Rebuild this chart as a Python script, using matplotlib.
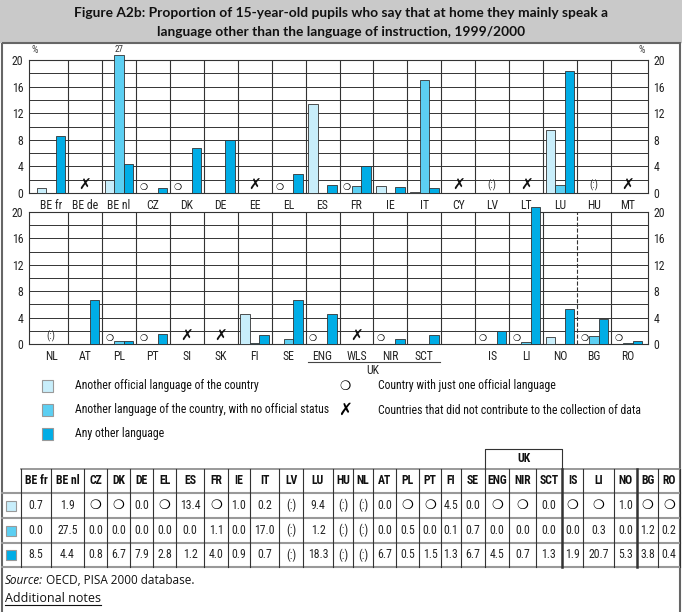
import matplotlib
matplotlib.use('Agg')
import matplotlib.pyplot as plt
from matplotlib import font_manager as fm
import numpy as np

W, H = 682, 612

# chart data ('o' = only one official language, 'x' = no data contributed, ':' = not available)
top_labels = ['BE fr', 'BE de', 'BE nl', 'CZ', 'DK', 'DE', 'EE', 'EL', 'ES',
              'FR', 'IE', 'IT', 'CY', 'LV', 'LT', 'LU', 'HU', 'MT']
top_official = [0.7, 'x', 1.9, 'o', 'o', 0.0, 'x', 'o', 13.4,
                'o', 1.0, 0.2, 'x', ':', 'x', 9.4, ':', 'x']
top_unofficial = [0.0, 'x', 27.5, 0.0, 0.0, 0.0, 'x', 0.0, 0.0,
                  1.1, 0.0, 17.0, 'x', ':', 'x', 1.2, ':', 'x']
top_other = [8.5, 'x', 4.4, 0.8, 6.7, 7.9, 'x', 2.8, 1.2,
             4.0, 0.9, 0.7, 'x', ':', 'x', 18.3, ':', 'x']

bot_labels = ['NL', 'AT', 'PL', 'PT', 'SI', 'SK', 'FI', 'SE', 'ENG',
              'WLS', 'NIR', 'SCT', '', 'IS', 'LI', 'NO', 'BG', 'RO']
bot_official = [':', 0.0, 'o', 'o', 'x', 'x', 4.5, 0.0, 'o',
                'x', 'o', 0.0, None, 'o', 'o', 1.0, 'o', 'o']
bot_unofficial = [':', 0.0, 0.5, 0.0, 'x', 'x', 0.1, 0.7, 0.0,
                  'x', 0.0, 0.0, None, 0.0, 0.3, 0.0, 1.2, 0.2]
bot_other = [':', 6.7, 0.5, 1.5, 'x', 'x', 1.3, 6.7, 4.5,
             'x', 0.7, 1.3, None, 1.9, 20.7, 5.3, 3.8, 0.4]

uk_parts = ['ENG', 'WLS', 'NIR', 'SCT']

legend_items = ['Another official language of the country',
                'Another language of the country, with no official status',
                'Any other language']
symbol_items = ['Country with just one official language',
                'Countries that did not contribute to the collection of data']

colours = ['#c8eefb', '#5ccff2', '#00ade6']
edge = '#333333'
cap = 20.7

# look for a condensed face, the reference uses a narrow type
names = sorted({f.name for f in fm.fontManager.ttflist})
narrow_name = None
for pref in ['Liberation Sans Narrow', 'Roboto Condensed', 'Open Sans Condensed', 'Noto Sans Condensed']:
    if pref in names:
        narrow_name = pref
        break
if narrow_name is None:
    for n in names:
        if 'Condensed' in n or 'Narrow' in n:
            narrow_name = n
            break
stretch = 'normal'
if narrow_name is None:
    for f in fm.fontManager.ttflist:
        if str(f.stretch) in ('condensed', 'semi-condensed', 'extra-condensed'):
            narrow_name = f.name
            stretch = 'condensed'
            break
if narrow_name is None:
    narrow_name = 'Lato'
narrow = [narrow_name, 'DejaVu Sans']
nfont = dict(family=narrow, stretch=stretch)

fig = plt.figure(figsize=(W / 100, H / 100), dpi=100)
bg = fig.add_axes([0, 0, 1, 1])
bg.set_xlim(0, W)
bg.set_ylim(H, 0)
bg.axis('off')


def box(x0, y0, x1, y1):
    return [x0 / W, 1 - y1 / H, (x1 - x0) / W, (y1 - y0) / H]


# title band and frame
bg.add_patch(plt.Rectangle((0, 0), W, 42, color='#c9c9c9', zorder=0))
t1 = bg.text(W / 2, 13, 'Figure A2b: Proportion of 15-year-old pupils who say that at home they mainly speak a',
             ha='center', va='center', fontsize=11, fontweight='bold', family='Lato', color='#111')
t2 = bg.text(W / 2, 32, 'language other than the language of instruction, 1999/2000',
             ha='center', va='center', fontsize=11, fontweight='bold', family='Lato', color='#111')
fig.canvas.draw()
scale = 532 / t1.get_window_extent().width
t1.set_fontsize(11 * scale)
t2.set_fontsize(11 * scale)
bg.add_patch(plt.Rectangle((2, 43), 678, 580, fill=False, ec='#666', lw=1.5, zorder=1))


def draw_chart(ax, labels, series, dashed_after=None):
    n = len(labels)
    ax.set_xlim(-0.65, n - 0.41)
    ax.set_ylim(0, 20)
    for y in range(2, 20, 2):
        ax.axhline(y, color='#333', lw=0.7, zorder=1)
    for k in range(n - 1):
        ax.axvline(k + 0.5, color='#333', lw=0.8, ls='--' if k == dashed_after else '-', zorder=1)
    bw = 0.28
    for j, (vals, col) in enumerate(zip(series, colours)):
        idx = [i for i, v in enumerate(vals) if isinstance(v, float)]
        xs = [i + (j - 1) * bw for i in idx]
        hs = [min(vals[i], cap) for i in idx]
        ax.bar(xs, hs, width=bw, color=col, edgecolor=edge, lw=0.6, zorder=3, clip_on=False)
        for x, i in zip(xs, idx):
            if vals[i] > cap:
                ax.text(x, cap + 0.2, f'{int(vals[i])}', ha='center', va='bottom',
                        fontsize=6.5, color='#333', clip_on=False, **nfont)
    for i, v in enumerate(series[0]):
        if v == 'o':
            ax.text(i - bw, 0.9, '\u274d', ha='center', va='center', fontsize=6.5, family='DejaVu Sans')
        elif v == 'x':
            ax.text(i, 1.2, '\u2717', ha='center', va='center', fontsize=11, family='DejaVu Sans',
                    fontweight='bold', color='#111')
        elif v == ':':
            ax.text(i, 1.2, '(:)', ha='center', va='center', fontsize=7.5, color='#333', **nfont)
    ax.set_xticks(range(n))
    ax.set_xticklabels(labels, fontsize=8.5, **nfont)
    ax.set_yticks(range(0, 21, 4))
    ax.set_yticklabels([str(t) for t in range(0, 21, 4)], fontsize=8.5, **nfont)
    ax.tick_params(length=0, labelright=True, pad=4, colors='#222')
    for s in ax.spines.values():
        s.set_color('#333')
        s.set_linewidth(0.8)


ax1 = fig.add_axes(box(29, 60, 648, 193))
draw_chart(ax1, top_labels, [top_official, top_unofficial, top_other])
ax2 = fig.add_axes(box(29, 212, 648, 344))
draw_chart(ax2, bot_labels, [bot_official, bot_unofficial, bot_other],
           dashed_after=bot_labels.index('NO'))

bg.text(31, 50, '%', fontsize=7.5, color='#444', ha='left', va='center', **nfont)
bg.text(645, 50, '%', fontsize=7.5, color='#444', ha='right', va='center', **nfont)

# UK bracket under the bottom chart
bg.plot([308, 440], [362, 362], color='#444', lw=0.8)
bg.text(373, 371, 'UK', ha='center', va='center', fontsize=8.5, color='#222', **nfont)

# legend
for k, (txt, col) in enumerate(zip(legend_items, colours)):
    y = 386 + 24 * k
    bg.add_patch(plt.Rectangle((42, y - 6), 11, 12, fc=col, ec='#999', lw=0.8))
    bg.text(75, y, txt, va='center', fontsize=8.5, color='#111', **nfont)
bg.text(345, 386, '\u274d', ha='center', va='center', fontsize=9, family='DejaVu Sans')
bg.text(345, 410, '\u2717', ha='center', va='center', fontsize=12, fontweight='bold', family='DejaVu Sans')
for k, txt in enumerate(symbol_items):
    bg.text(378, 386 + 24 * k, txt, va='center', fontsize=8.5, color='#111', **nfont)

# table
cols = []
for labs, o, u, a in [(top_labels, top_official, top_unofficial, top_other),
                      (bot_labels, bot_official, bot_unofficial, bot_other)]:
    for i, lab in enumerate(labs):
        if lab and o[i] != 'x':
            cols.append((lab, o[i], u[i], a[i]))

col_edges = [21, 51, 84, 107, 130, 153, 176, 204, 228, 250, 279, 303, 333, 353, 373,
             396, 419, 441, 461, 485, 509, 536, 562, 583, 614, 637, 658, 680]
row_edges = [469, 493, 518, 543, 567]


def fmt(v):
    if v == 'o':
        return '\u274d'
    if v == ':':
        return '(:)'
    return f'{v:.1f}'


bg.plot([21, 680], [469, 469], color='#888', lw=1.2)
for y in row_edges[1:]:
    bg.plot([2, 680], [y, y], color='#999', lw=1.5)
for k, x in enumerate(col_edges):
    lab_left = cols[k - 1][0] if 0 < k <= len(cols) else ''
    thick = lab_left in ('SCT', 'NO')
    bg.plot([x, x], [469, 567], color='#333', lw=1.8 if thick else 0.8)

for k, (lab, o, u, a) in enumerate(cols):
    xc = (col_edges[k] + col_edges[k + 1]) / 2
    bg.text(xc, 481, lab, ha='center', va='center', fontsize=8.5, fontweight='bold',
            color='#111', **nfont)
    for r, v in enumerate((o, u, a)):
        yc = (row_edges[r + 1] + row_edges[r + 2]) / 2
        if v == 'o':
            bg.text(xc, yc, fmt(v), ha='center', va='center', fontsize=9.5, family='DejaVu Sans')
        else:
            bg.text(xc, yc, fmt(v), ha='center', va='center', fontsize=8.5, color='#222', **nfont)

for r, col in enumerate(colours):
    yc = (row_edges[r + 1] + row_edges[r + 2]) / 2
    bg.add_patch(plt.Rectangle((6, yc - 5), 10, 10, fc=col, ec='#999', lw=0.8))

# UK header box over the table
uk_cols = [k for k, c in enumerate(cols) if c[0] in uk_parts]
ux0, ux1 = col_edges[uk_cols[0]], col_edges[uk_cols[-1] + 1]
bg.plot([ux0, ux0, ux1, ux1], [469, 449, 449, 469], color='#333', lw=0.8)
bg.text((ux0 + ux1) / 2, 459, 'UK', ha='center', va='center', fontsize=8.5,
        fontweight='bold', color='#111', **nfont)

# source and notes
t = bg.text(5, 580, 'Source:', style='italic', fontsize=8.5, family='Open Sans', va='center', color='#111')
fig.canvas.draw()
bb = t.get_window_extent()
bg.text(5 + bb.width + 3, 580, 'OECD, PISA 2000 database.', fontsize=8.5, family='Open Sans',
        va='center', color='#111')
tn = bg.text(5, 598, 'Additional notes', fontsize=9, family='Open Sans', va='center', color='#111')
fig.canvas.draw()
bb2 = tn.get_window_extent()
bg.plot([5, 5 + bb2.width], [605, 605], color='#111', lw=0.8)

fig.savefig('out.png', dpi=100)
